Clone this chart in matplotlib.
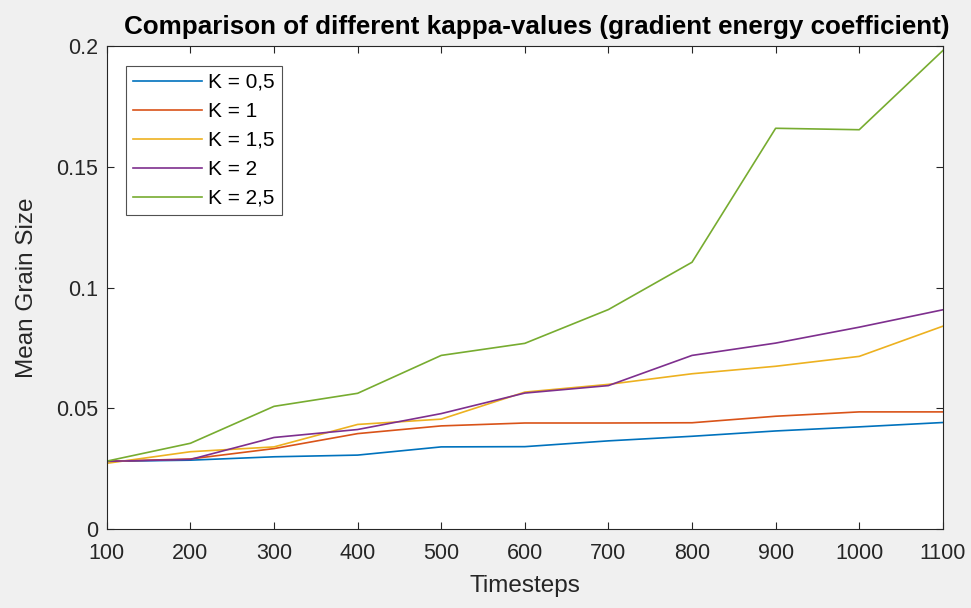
import numpy as np
import matplotlib.pyplot as plt
from matplotlib.ticker import FixedLocator

plt.rcParams["font.family"] = ["Liberation Sans", "DejaVu Sans"]

timesteps = [100, 200, 300, 400, 500, 600, 700, 800, 900, 1000, 1100]

k_05 = [0.0280, 0.0285, 0.0299, 0.0306, 0.0340, 0.0341, 0.0365, 0.0384, 0.0406, 0.0423, 0.0441]
k_1 = [0.0280, 0.0290, 0.0333, 0.0395, 0.0427, 0.0439, 0.0439, 0.0440, 0.0467, 0.0485, 0.0485]
k_15 = [0.0272, 0.0320, 0.0340, 0.0433, 0.0455, 0.0567, 0.0599, 0.0643, 0.0674, 0.0715, 0.0840]
k_2 = [0.0280, 0.0288, 0.0379, 0.0412, 0.0478, 0.0563, 0.0594, 0.0719, 0.0770, 0.0836, 0.0908]
k_25 = [0.0281, 0.0355, 0.0508, 0.0562, 0.0719, 0.0769, 0.0909, 0.1105, 0.1660, 0.1654, 0.1982]

labels = ["K = 0,5", "K = 1", "K = 1,5", "K = 2", "K = 2,5"]
series = [k_05, k_1, k_15, k_2, k_25]
colors = ["#0072BD", "#D95319", "#EDB120", "#7E2F8E", "#77AC30"]

fig = plt.figure(figsize=(9.71, 6.08), dpi=100, facecolor="#F0F0F0")
ax = fig.add_axes([0.110, 0.130, 0.861, 0.794])

for vals, lab, col in zip(series, labels, colors):
    ax.plot(timesteps, vals, color=col, linewidth=1.2, label=lab)

ax.set_xlim(100, 1100)
ax.set_ylim(0, 0.2)
ax.xaxis.set_major_locator(FixedLocator(timesteps))
ax.set_yticks([0, 0.05, 0.1, 0.15, 0.2])
ax.set_yticklabels(["0", "0.05", "0.1", "0.15", "0.2"])

dark = "#262626"
for s in ax.spines.values():
    s.set_color(dark)
    s.set_linewidth(0.8)
ax.tick_params(direction="in", top=True, right=True, length=5, width=0.8,
               colors=dark, labelsize=15.5)
ax.tick_params(axis="x", pad=10)
ax.tick_params(axis="y", pad=6)

ax.set_xlabel("Timesteps", fontsize=17.5, color=dark, labelpad=8)
ax.set_ylabel("Mean Grain Size", fontsize=17.5, color=dark, labelpad=13)
ax.set_title("Comparison of different kappa-values (gradient energy coefficient)",
             fontsize=18.7, fontweight="bold", color="black", pad=9, x=0.514)

leg = ax.legend(loc="upper left", bbox_to_anchor=(0.023, 0.96), fontsize=15,
                frameon=True, fancybox=False, handlelength=3.3,
                handletextpad=0.3, labelspacing=0.48, borderpad=0.35,
                borderaxespad=0)
leg.get_frame().set_edgecolor(dark)
leg.get_frame().set_linewidth(0.8)

fig.savefig("out.png", dpi=100, facecolor=fig.get_facecolor())
